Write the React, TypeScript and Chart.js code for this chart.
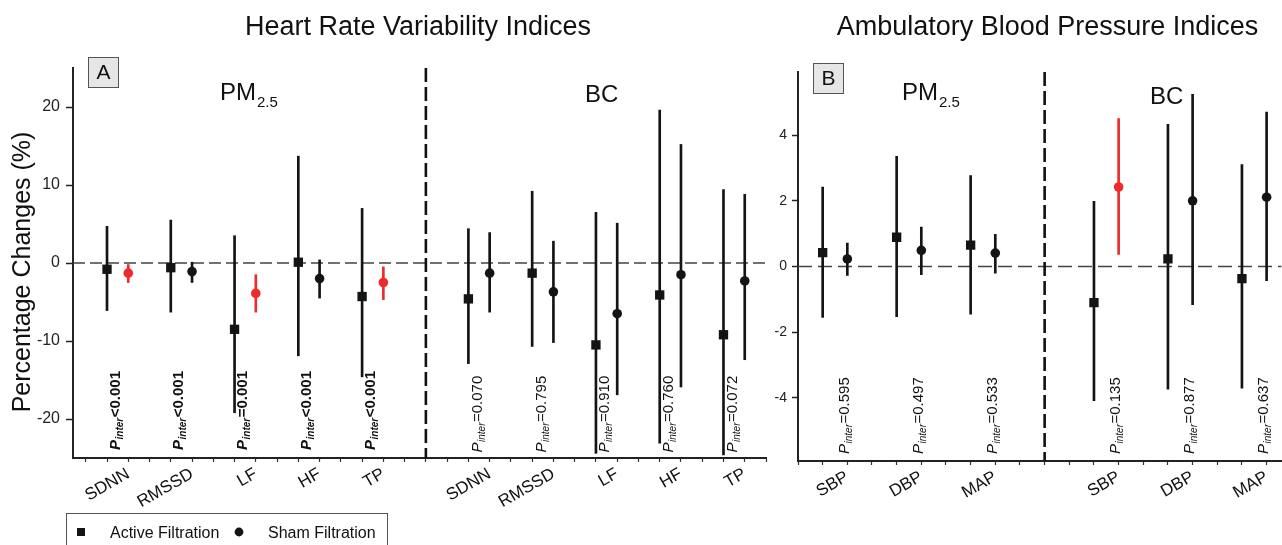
import React, { useEffect, useRef } from 'react';
import { Chart, registerables } from 'chart.js';

Chart.register(...registerables);

const FONT = '"Liberation Sans", Arial, Helvetica, sans-serif';
const RED = '#ee2a2a';
const BLACK = '#141414';

// ---------- Panel A: Heart Rate Variability ----------
const hrvCategories = ['SDNN', 'RMSSD', 'LF', 'HF', 'TP'];
const hrvYTicks = [-20, -10, 0, 10, 20];

const hrvPmActive = [-0.8, -0.6, -8.5, 0.1, -4.3];
const hrvPmActiveLo = [-6.1, -6.3, -19.2, -11.9, -14.6];
const hrvPmActiveHi = [4.7, 5.5, 3.5, 13.7, 7.0];
const hrvPmSham = [-1.3, -1.1, -3.9, -2.0, -2.5];
const hrvPmShamLo = [-2.5, -2.5, -6.3, -4.5, -4.7];
const hrvPmShamHi = [-0.2, 0.1, -1.5, 0.4, -0.5];
const hrvPmShamSig = [true, false, true, false, true];
const hrvPmPText = ['<0.001', '<0.001', '=0.001', '<0.001', '<0.001'];

const hrvBcActive = [-4.6, -1.3, -10.5, -4.1, -9.2];
const hrvBcActiveLo = [-12.9, -10.7, -24.4, -23.1, -24.6];
const hrvBcActiveHi = [4.4, 9.2, 6.5, 19.6, 9.4];
const hrvBcSham = [-1.3, -3.7, -6.5, -1.5, -2.3];
const hrvBcShamLo = [-6.3, -10.2, -16.9, -15.9, -12.4];
const hrvBcShamHi = [3.9, 2.8, 5.1, 15.2, 8.8];
const hrvBcShamSig = [false, false, false, false, false];
const hrvBcPText = ['=0.070', '=0.795', '=0.910', '=0.760', '=0.072'];

// ---------- Panel B: Ambulatory Blood Pressure ----------
const bpCategories = ['SBP', 'DBP', 'MAP'];
const bpYTicks = [-4, -2, 0, 2, 4];

const bpPmActive = [0.42, 0.89, 0.65];
const bpPmActiveLo = [-1.55, -1.53, -1.45];
const bpPmActiveHi = [2.42, 3.35, 2.77];
const bpPmSham = [0.23, 0.49, 0.41];
const bpPmShamLo = [-0.27, -0.25, -0.2];
const bpPmShamHi = [0.71, 1.2, 0.98];
const bpPmShamSig = [false, false, false];
const bpPmPText = ['=0.595', '=0.497', '=0.533'];

const bpBcActive = [-1.1, 0.23, -0.37];
const bpBcActiveLo = [-4.08, -3.73, -3.7];
const bpBcActiveHi = [1.98, 4.33, 3.1];
const bpBcSham = [2.42, 2.0, 2.11];
const bpBcShamLo = [0.37, -1.16, -0.43];
const bpBcShamHi = [4.5, 5.24, 4.7];
const bpBcShamSig = [true, false, false];
const bpBcPText = ['=0.135', '=0.877', '=0.637'];

type Group = {
  active: number[]; activeLo: number[]; activeHi: number[];
  sham: number[]; shamLo: number[]; shamHi: number[];
  shamSig: boolean[]; pText: string[];
  start: number; bold: boolean; pOffset: number; pBottom: number;
};

type Panel = {
  categories: string[];
  groups: Group[];
  yMin: number; yMax: number; yTicks: number[];
  xMin: number; xMax: number; separatorX: number;
  yWidth: number; xHeight: number; padRight: number; padTop: number;
  yFont: number; yTickLen: number; yPad: number;
  zeroDash: number[];
  title: string; titleX: number;
  yTitle?: string;
  box: { x: number; y: number; letter: string };
  headers: { main: string; sub?: string; x: number; y: number }[];
  legend: boolean;
};

function buildDatasets(p: Panel) {
  const bars: any[] = [];
  const barColors: string[] = [];
  const act: any[] = [];
  const sham: any[] = [];
  const shamColors: string[] = [];
  p.groups.forEach((g) => {
    g.active.forEach((v, i) => {
      const xa = g.start + 3 * i;
      const xs = xa + 1;
      const c = g.shamSig[i] ? RED : BLACK;
      bars.push({ x: xa, y: [g.activeLo[i], g.activeHi[i]] });
      barColors.push(BLACK);
      bars.push({ x: xs, y: [g.shamLo[i], g.shamHi[i]] });
      barColors.push(c);
      act.push({ x: xa, y: v });
      sham.push({ x: xs, y: g.sham[i] });
      shamColors.push(c);
    });
  });
  return [
    {
      type: 'bar', label: '95% CI', data: bars, backgroundColor: barColors,
      borderWidth: 0, barThickness: 2, grouped: false, order: 3,
    },
    {
      type: 'scatter', label: 'Active Filtration', data: act, pointStyle: 'rect',
      pointRadius: 6.6, pointBackgroundColor: BLACK, pointBorderColor: BLACK, pointBorderWidth: 0, order: 1,
    },
    {
      type: 'scatter', label: 'Sham Filtration', data: sham, pointStyle: 'circle',
      pointRadius: 4.8, pointBackgroundColor: shamColors, pointBorderColor: shamColors, pointBorderWidth: 0, order: 1,
    },
  ];
}

function drawP(ctx: CanvasRenderingContext2D, x: number, yb: number, rest: string, bold: boolean) {
  ctx.save();
  ctx.translate(x, yb);
  ctx.rotate(-Math.PI / 2);
  ctx.fillStyle = '#111';
  ctx.textAlign = 'left';
  ctx.textBaseline = 'alphabetic';
  const w = bold ? 'bold ' : '';
  ctx.font = `italic ${w}15px ${FONT}`;
  ctx.fillText('P', 0, 0);
  let cx = ctx.measureText('P').width + 0.5;
  ctx.font = `italic ${w}10px ${FONT}`;
  ctx.fillText('inter', cx, 3);
  cx += ctx.measureText('inter').width + 0.5;
  ctx.font = `${w}15px ${FONT}`;
  ctx.fillText(rest, cx, 0);
  ctx.restore();
}

function decorPlugin(p: Panel) {
  return {
    id: 'decor',
    beforeDatasetsDraw(chart: any) {
      const { ctx, chartArea, scales } = chart;
      const x = scales.x;
      const y = scales.y;
      ctx.save();
      ctx.strokeStyle = '#444';
      ctx.lineWidth = 1.4;
      ctx.setLineDash(p.zeroDash);
      const y0 = y.getPixelForValue(0);
      ctx.beginPath();
      ctx.moveTo(chartArea.left, y0);
      ctx.lineTo(chartArea.right, y0);
      ctx.stroke();
      ctx.strokeStyle = '#111';
      ctx.lineWidth = 2.6;
      ctx.setLineDash([14, 5]);
      const xs = x.getPixelForValue(p.separatorX);
      ctx.beginPath();
      ctx.moveTo(xs, chartArea.top);
      ctx.lineTo(xs, chartArea.bottom);
      ctx.stroke();
      ctx.restore();
    },
    afterDraw(chart: any) {
      const { ctx, scales } = chart;
      const x = scales.x;
      ctx.save();
      // title
      ctx.fillStyle = '#111';
      ctx.font = `27px ${FONT}`;
      ctx.textAlign = 'center';
      ctx.textBaseline = 'alphabetic';
      ctx.fillText(p.title, p.titleX, 35);
      // y title
      if (p.yTitle) {
        ctx.save();
        ctx.translate(30, 272);
        ctx.rotate(-Math.PI / 2);
        ctx.font = `25px ${FONT}`;
        ctx.textAlign = 'center';
        ctx.fillText(p.yTitle, 0, 0);
        ctx.restore();
      }
      // panel letter box
      ctx.fillStyle = '#e6e6e6';
      ctx.fillRect(p.box.x, p.box.y, 30, 30);
      ctx.strokeStyle = '#555';
      ctx.lineWidth = 1;
      ctx.strokeRect(p.box.x + 0.5, p.box.y + 0.5, 30, 30);
      ctx.fillStyle = '#111';
      ctx.font = `21px ${FONT}`;
      ctx.textAlign = 'center';
      ctx.textBaseline = 'middle';
      ctx.fillText(p.box.letter, p.box.x + 15.5, p.box.y + 16.5);
      // headers
      ctx.textAlign = 'left';
      ctx.textBaseline = 'alphabetic';
      p.headers.forEach((h) => {
        ctx.font = `24px ${FONT}`;
        ctx.fillText(h.main, h.x, h.y);
        if (h.sub) {
          const wm = ctx.measureText(h.main).width;
          ctx.font = `15px ${FONT}`;
          ctx.fillText(h.sub, h.x + wm + 1, h.y + 7);
        }
      });
      // P-interaction labels
      p.groups.forEach((g) => {
        g.pText.forEach((t, i) => {
          const px = x.getPixelForValue(g.start + 3 * i) + g.pOffset;
          drawP(ctx, px, g.pBottom, t, g.bold);
        });
      });
      // legend
      if (p.legend) {
        ctx.strokeStyle = '#555';
        ctx.lineWidth = 1;
        ctx.strokeRect(66.5, 513.5, 321, 40);
        ctx.fillStyle = BLACK;
        ctx.fillRect(77, 528, 8, 8);
        ctx.beginPath();
        ctx.arc(239, 532, 4.4, 0, Math.PI * 2);
        ctx.fill();
        ctx.fillStyle = '#111';
        ctx.font = `16px ${FONT}`;
        ctx.textAlign = 'left';
        ctx.textBaseline = 'alphabetic';
        ctx.fillText('Active Filtration', 110, 538);
        ctx.fillText('Sham Filtration', 268, 538);
      }
      ctx.restore();
    },
  };
}

function makeConfig(p: Panel): any {
  const labelMap: Record<number, string> = {};
  p.groups.forEach((g) => {
    p.categories.forEach((c, i) => {
      labelMap[g.start + 3 * i + 1] = c;
    });
  });
  const xTickVals: number[] = [];
  for (let v = Math.ceil(p.xMin); v <= Math.floor(p.xMax); v++) xTickVals.push(v);
  return {
    type: 'bar',
    data: { datasets: buildDatasets(p) },
    options: {
      animation: false,
      responsive: false,
      events: [],
      layout: { padding: { top: p.padTop, left: 0, right: p.padRight, bottom: 0 } },
      plugins: { legend: { display: false }, tooltip: { enabled: false }, title: { display: false } },
      scales: {
        x: {
          type: 'linear',
          min: p.xMin,
          max: p.xMax,
          offset: false,
          afterBuildTicks: (s: any) => { s.ticks = xTickVals.map((v) => ({ value: v })); },
          afterFit: (s: any) => { s.height = p.xHeight; },
          grid: { offset: false, drawOnChartArea: false, drawTicks: true, tickLength: 4, tickColor: '#333', tickWidth: 1.2 },
          border: { display: true, color: '#222', width: 2 },
          ticks: {
            autoSkip: false, maxRotation: 30, minRotation: 30, padding: 2, color: '#111',
            font: { family: FONT, size: 17 },
            callback: (v: number) => labelMap[v] ?? '',
          },
        },
        y: {
          type: 'linear',
          min: p.yMin,
          max: p.yMax,
          afterBuildTicks: (s: any) => { s.ticks = p.yTicks.map((v) => ({ value: v })); },
          afterFit: (s: any) => { s.width = p.yWidth; },
          grid: { drawOnChartArea: false, drawTicks: true, tickLength: p.yTickLen, tickColor: '#222', tickWidth: 1.5 },
          border: { display: true, color: '#222', width: 2 },
          ticks: { padding: p.yPad, color: '#222', font: { family: FONT, size: p.yFont } },
        },
      },
    },
    plugins: [decorPlugin(p)],
  };
}

const panelA: Panel = {
  categories: hrvCategories,
  groups: [
    {
      active: hrvPmActive, activeLo: hrvPmActiveLo, activeHi: hrvPmActiveHi,
      sham: hrvPmSham, shamLo: hrvPmShamLo, shamHi: hrvPmShamHi,
      shamSig: hrvPmShamSig, pText: hrvPmPText, start: 1, bold: true, pOffset: 12.5, pBottom: 450,
    },
    {
      active: hrvBcActive, activeLo: hrvBcActiveLo, activeHi: hrvBcActiveHi,
      sham: hrvBcSham, shamLo: hrvBcShamLo, shamHi: hrvBcShamHi,
      shamSig: hrvBcShamSig, pText: hrvBcPText, start: 18, bold: false, pOffset: 13.5, pBottom: 452.5,
    },
  ],
  yMin: -25, yMax: 25, yTicks: hrvYTicks,
  xMin: -0.6, xMax: 32, separatorX: 16,
  yWidth: 73, xHeight: 87, padRight: 14, padTop: 68,
  yFont: 16, yTickLen: 7, yPad: 6,
  zeroDash: [12, 5],
  title: 'Heart Rate Variability Indices', titleX: 418,
  yTitle: 'Percentage Changes (%)',
  box: { x: 88, y: 57, letter: 'A' },
  headers: [
    { main: 'PM', sub: '2.5', x: 220, y: 100 },
    { main: 'BC', x: 585, y: 102 },
  ],
  legend: true,
};

const panelB: Panel = {
  categories: bpCategories,
  groups: [
    {
      active: bpPmActive, activeLo: bpPmActiveLo, activeHi: bpPmActiveHi,
      sham: bpPmSham, shamLo: bpPmShamLo, shamHi: bpPmShamHi,
      shamSig: bpPmShamSig, pText: bpPmPText, start: 1, bold: false, pOffset: 26.5, pBottom: 454,
    },
    {
      active: bpBcActive, activeLo: bpBcActiveLo, activeHi: bpBcActiveHi,
      sham: bpBcSham, shamLo: bpBcShamLo, shamHi: bpBcShamHi,
      shamSig: bpBcShamSig, pText: bpBcPText, start: 12, bold: false, pOffset: 26.5, pBottom: 454,
    },
  ],
  yMin: -5.92, yMax: 5.92, yTicks: bpYTicks,
  xMin: 0, xMax: 19.6, separatorX: 10,
  yWidth: 78, xHeight: 84, padRight: 0, padTop: 72,
  yFont: 14, yTickLen: 6, yPad: 5,
  zeroDash: [14, 6],
  title: 'Ambulatory Blood Pressure Indices', titleX: 327.5,
  box: { x: 93, y: 63, letter: 'B' },
  headers: [
    { main: 'PM', sub: '2.5', x: 182, y: 100 },
    { main: 'BC', x: 430, y: 104 },
  ],
  legend: false,
};

export default function App() {
  const refA = useRef<HTMLCanvasElement>(null);
  const refB = useRef<HTMLCanvasElement>(null);
  useEffect(() => {
    const a = new Chart(refA.current as HTMLCanvasElement, makeConfig(panelA));
    const b = new Chart(refB.current as HTMLCanvasElement, makeConfig(panelB));
    return () => {
      a.destroy();
      b.destroy();
    };
  }, []);
  return (
    <div style={{ position: 'absolute', left: 0, top: 0, width: 1282, height: 545, background: '#fff', overflow: 'hidden' }}>
      <canvas ref={refA} width={780} height={545} style={{ position: 'absolute', left: 0, top: 0, width: 780, height: 545 }} />
      <canvas ref={refB} width={568} height={545} style={{ position: 'absolute', left: 720, top: 0, width: 568, height: 545 }} />
    </div>
  );
}
